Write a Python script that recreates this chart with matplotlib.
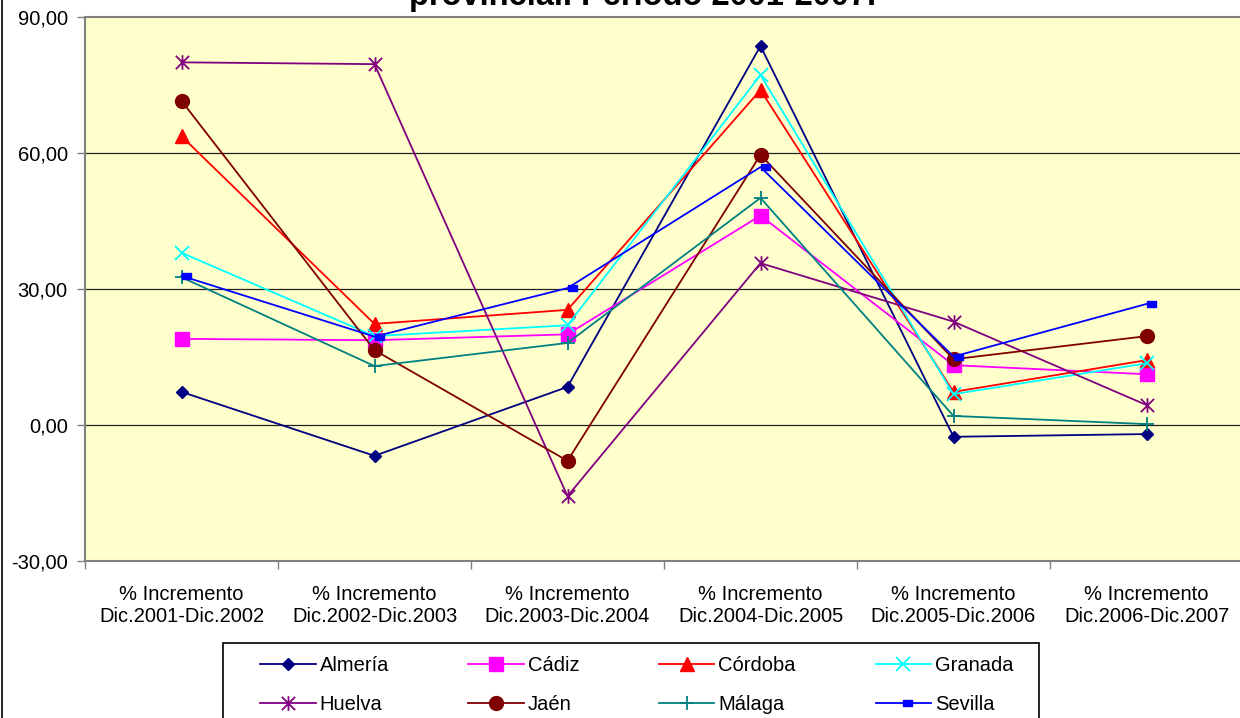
import matplotlib
matplotlib.use("Agg")
import matplotlib.pyplot as plt
import numpy as np
from matplotlib.lines import Line2D
from matplotlib.patches import Rectangle
from matplotlib.path import Path
from matplotlib.ticker import FuncFormatter

plt.rcParams["font.family"] = ["Liberation Sans", "DejaVu Sans"]

categories = [
    "% Incremento\nDic.2001-Dic.2002",
    "% Incremento\nDic.2002-Dic.2003",
    "% Incremento\nDic.2003-Dic.2004",
    "% Incremento\nDic.2004-Dic.2005",
    "% Incremento\nDic.2005-Dic.2006",
    "% Incremento\nDic.2006-Dic.2007",
]

almeria = [7.3, -6.8, 8.4, 83.6, -2.6, -2.0]
cadiz = [19.0, 18.7, 20.0, 46.2, 13.2, 11.2]
cordoba = [63.7, 22.3, 25.4, 73.9, 7.3, 14.3]
granada = [38.0, 19.6, 22.0, 77.2, 6.8, 13.6]
huelva = [80.0, 79.6, -15.7, 35.7, 22.8, 4.4]
jaen = [71.5, 16.5, -7.9, 59.6, 14.5, 19.6]
malaga = [32.6, 13.0, 18.1, 50.1, 2.0, 0.2]
sevilla = [32.9, 19.5, 30.2, 56.9, 15.1, 26.7]

yticks = [-30, 0, 30, 60, 90]

# Excel "short dash" marker: small bar starting at the point
dash = [(0, -0.28), (1, -0.28), (1, 0.28), (0, 0.28), (0, -0.28)]
# Excel asterisk: an x with a vertical stroke
star = Path([(-1, -1), (1, 1), (-1, 1), (1, -1), (0, -1.1), (0, 1.1)],
            [Path.MOVETO, Path.LINETO, Path.MOVETO, Path.LINETO, Path.MOVETO, Path.LINETO])

series = [
    ("Almería", almeria, "#000080", "D", 6.6),
    ("Cádiz", cadiz, "#FF00FF", "s", 10),
    ("Córdoba", cordoba, "#FF0000", "^", 10),
    ("Granada", granada, "#00FFFF", "x", 10),
    ("Huelva", huelva, "#800080", star, 10.5),
    ("Jaén", jaen, "#800000", "o", 10),
    ("Málaga", malaga, "#008080", "+", 10),
    ("Sevilla", sevilla, "#0000FF", dash, 13),
]

fig = plt.figure(figsize=(12.4, 7.18), dpi=100)
W, H = 1240, 718
ax = fig.add_axes([85 / W, 1 - 561 / H, 1158 / W, 544 / H])
ax.set_facecolor("#FFFFCC")

x = np.arange(len(categories))
handles = {}
for name, vals, col, mk, ms in series:
    thin = mk in ("x", "+") or isinstance(mk, Path)
    (ln,) = ax.plot(x, vals, color=col, lw=1.3, marker=mk, ms=ms,
                    mec=col, mfc=col, mew=1.3 if thin else 1, label=name, clip_on=False)
    handles[name] = ln

ax.set_xlim(-0.5, 5.5)
ax.set_ylim(-30, 90)
ax.set_yticks(yticks)
ax.yaxis.set_major_formatter(FuncFormatter(lambda v, p: f"{v:.2f}".replace(".", ",")))
ax.set_xticks(x)
ax.set_xticklabels(categories, fontsize=14.5, linespacing=1.25)
ax.set_xticks(np.arange(-0.5, 6, 1), minor=True)
ax.tick_params(axis="x", which="major", length=0, pad=17)
ax.tick_params(axis="x", which="minor", length=6, width=1, color="#808080", direction="out")
ax.tick_params(axis="y", labelsize=14.5, length=6, width=1, color="#808080", pad=6.5)

for v in [0, 30, 60]:
    ax.axhline(v, color="#222222", lw=0.9, zorder=1)

for s in ax.spines.values():
    s.set_color("#808080")
    s.set_linewidth(1.5)

fig.text(643 / W, 1 - 5 / H, "provincial. Periodo 2001-2007.", ha="center",
         va="baseline", fontsize=23.5, fontweight="bold")

# figure border on the left
fig.add_artist(Line2D([1.5 / W, 1.5 / W], [0, 1], color="black", lw=1.2))

# legend frame and entries
fig.add_artist(Rectangle((223 / W, -0.05), (1039 - 223) / W, 0.05 + 1 - 643 / H,
                         transform=fig.transFigure, fill=False, ec="black", lw=1.2))
order = ["Almería", "Huelva", "Cádiz", "Jaén", "Córdoba", "Málaga", "Granada", "Sevilla"]
fig.legend([handles[n] for n in order], order, ncol=4, frameon=False,
           loc="upper left", bbox_to_anchor=(242 / W, 1 - 638 / H),
           fontsize=14.5, handlelength=2.75, handletextpad=0.2,
           columnspacing=3.95, labelspacing=1.0, borderpad=0.4)

fig.savefig("out.png", dpi=100)
